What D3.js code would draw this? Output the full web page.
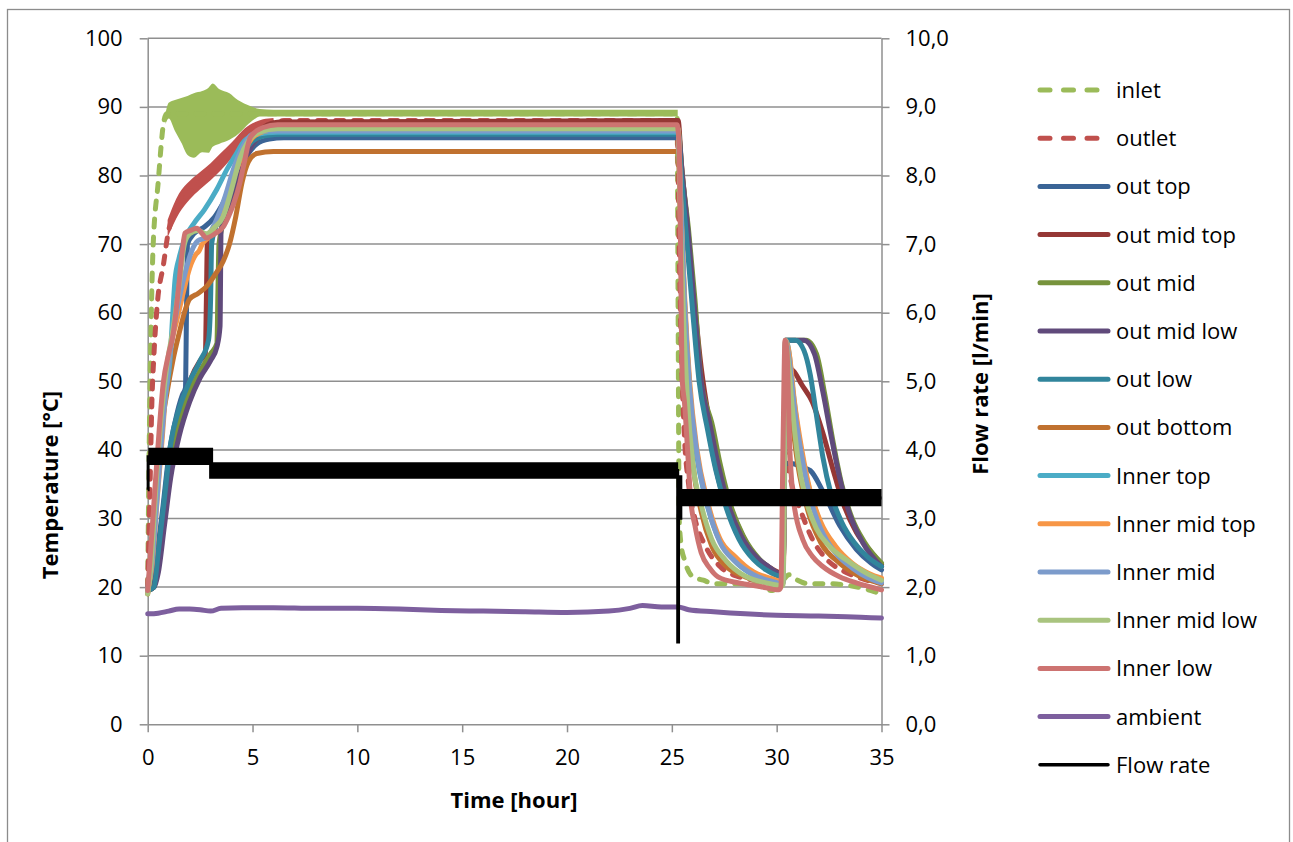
<!DOCTYPE html>
<html><head><meta charset="utf-8">
<script src="https://cdn.jsdelivr.net/npm/d3@7"></script>
<style>
html,body{margin:0;padding:0;background:#fff;}
svg{display:block;font-family:"Open Sans",Lato,sans-serif;}
</style></head>
<body>
<svg id="chart" width="1293" height="842"></svg>
<script>
// ---------------- DATA ----------------
const xTicks = [0,5,10,15,20,25,30,35];
const yTicks = [0,10,20,30,40,50,60,70,80,90,100];
const y2Ticks = [0,1,2,3,4,5,6,7,8,9,10];

const seriesNames = ["inlet","outlet","out top","out mid top","out mid","out mid low","out low","out bottom",
  "Inner top","Inner mid top","Inner mid","Inner mid low","Inner low","ambient","Flow rate"];
const seriesColors = ["#9BBB59","#C0504D","#3A6496","#953735","#77933C","#604A7B","#31859C","#C0712F",
  "#4BACC6","#F79646","#7C9BCB","#A9C47F","#CD7371","#7D5F9E","#000000"];

// inlet (dashed) [hour, °C]
const inlet = [[0,20],[0.05,35],[0.1,47],[0.16,58],[0.25,69],[0.5,79],[0.75,87.5],[0.9,89],[25.25,89],[25.3,60],
  [25.35,30],[25.45,26],[25.6,24],[26,21.5],[26.5,21],[27,20.5],[28,20.5],[29,20.3],[29.8,19.5],[30.3,21],
  [30.6,21.8],[31,21],[31.5,20.5],[32.5,20.5],[33.5,20.2],[34.5,19.5],[35,19]];
// inlet fluctuation envelope
const inletBandT  = [0.85,1.0,1.3,1.6,1.9,2.2,2.6,2.9,3.1,3.4,3.9,4.3,4.6,5.0,5.35,6.0,25.28];
const inletBandLo = [87.5,88.3,86.5,84.8,83.0,82.6,83.4,83.3,84.2,84.6,85.2,86.0,86.9,88.0,88.6,88.6,88.6];
const inletBandHi = [89.0,90.6,91.0,91.3,91.6,92.0,92.3,92.8,93.4,92.6,92.0,91.0,90.5,90.0,89.7,89.6,89.6];

const outlet = [[0,20],[0.1,33],[0.2,47],[0.3,54],[0.45,61],[0.75,67],[1.0,72],[1.5,75.5],[2.0,77.5],[2.5,79],
  [3.0,80.5],[3.5,82],[4.0,83.5],[4.5,85.5],[5.0,86.8],[5.5,87.5],[6.5,88],[25.25,88],[25.35,70],[25.45,55],
  [25.6,42],[25.8,35],[26.1,30],[26.6,26],[27.3,23],[28.2,21.5],[29.5,20.8],[30.25,20.5],[30.35,40],[30.5,38],
  [30.8,34],[31.1,31.5],[31.7,27],[32.4,24],[33.2,22.3],[34,21.3],[35,20.5]];
const outletBandT  = [0.95,1.5,2.0,2.5,3.0,3.5,4.0,4.5,5.0,5.5,6.0];
const outletBandLo = [71.0,74.5,76.5,78.0,79.3,80.8,82.5,84.5,86.0,87.0,87.5];
const outletBandHi = [73.5,77.4,79.2,80.5,81.8,83.3,84.8,86.5,87.6,88.2,88.4];

const outTop = [[0,19.5],[0.2,20],[0.4,24],[0.7,31],[1.0,39],[1.3,44],[1.65,48],[1.8,49],[1.85,60],[1.9,70],
  [2.2,71.5],[2.7,72.5],[3.2,74],[3.6,76],[4.0,78.5],[4.4,81],[4.8,83.2],[5.2,84.6],[5.8,85.3],[6.5,85.5],
  [25.3,85.5],[25.45,80],[25.7,72],[26.0,62],[26.4,50],[26.8,42],[27.2,36],[27.7,31],[28.3,27],[29,24],
  [29.6,22.5],[30.25,21.5],[30.4,38],[30.7,38],[31.2,37.5],[31.6,37],[32.2,34],[33.0,29],[33.8,25.5],
  [34.5,23.5],[35,22.5]];
const outMidTop = [[0,19.5],[0.3,20],[0.5,24],[0.8,32],[1.1,39],[1.5,45],[2.0,50],[2.5,53],[2.75,54],[2.8,62],
  [2.85,71],[3.1,72],[3.5,74.5],[4,78.5],[4.5,82.5],[5,85.5],[5.5,87],[6.3,87.8],[25.3,88],[25.45,82],
  [25.7,74],[26.0,64],[26.4,52],[26.8,44],[27.2,38],[27.7,32.5],[28.3,28],[29,24.5],[29.6,23],[30.3,22],
  [30.45,52],[30.8,51.5],[31.2,49.5],[31.7,47],[32.2,42.5],[32.7,37],[33.2,32],[33.8,28],[34.4,25.5],[35,23.3]];
const outMid = [[0,19.5],[0.3,20],[0.5,23],[0.8,30],[1.1,37],[1.5,44],[2.0,48.5],[2.5,51.5],[3.0,54],[3.3,55.5],
  [3.35,63],[3.4,70],[3.7,74],[4.1,78],[4.5,81.5],[5,84.5],[5.5,86],[6.5,86.5],[25.3,86.5],[25.5,80],
  [25.8,72],[26.1,62],[26.4,50],[26.6,47],[26.9,44],[27.3,38],[27.8,32],[28.4,27.5],[29.2,24],[29.8,22.5],
  [30.3,21.5],[30.45,56],[31.4,56],[31.9,54],[32.3,48],[32.7,41],[33.1,35],[33.6,30],[34.2,26.5],[35,23.5]];
const outMidLow = [[0,19.5],[0.3,20],[0.5,22],[0.8,29],[1.1,36],[1.5,42],[2.0,47],[2.5,50.5],[3.0,53],[3.3,55],
  [3.45,58],[3.5,72],[3.8,75],[4.2,79],[4.6,82],[5,84.5],[5.6,86],[6.5,86.3],[25.3,86.3],[25.5,80],
  [25.8,71],[26.1,60],[26.4,50],[26.8,44],[27.2,38],[27.7,32],[28.3,27.5],[29.0,24.5],[29.6,23],[30.3,21.8],
  [30.45,56],[31.3,56],[31.8,54],[32.2,48.5],[32.6,42],[33.0,36],[33.5,30.5],[34.1,26.5],[35,23]];
const outLow = [[0,19.5],[0.3,20],[0.5,25],[0.8,33],[1.1,41],[1.5,46],[2.0,50],[2.5,53],[2.9,56],[3.0,62],
  [3.05,70],[3.3,73],[3.7,76.5],[4.1,80],[4.5,83],[5,85],[5.6,85.8],[6.5,86],[25.3,86],[25.45,80],
  [25.7,71],[26.0,60],[26.3,50],[26.7,43],[27.1,37],[27.6,31.5],[28.2,27],[28.9,24],[29.5,22.5],[30.3,21.5],
  [30.45,56],[30.9,56],[31.3,54.5],[31.6,51],[31.9,45],[32.2,39],[32.6,33.5],[33.1,29.5],[33.7,26.5],
  [34.3,24.5],[35,23]];
const outBottom = [[0,19],[0.2,25],[0.4,35],[0.6,42],[0.9,48],[1.2,53],[1.5,57],[1.8,60.5],[2.0,62],[2.4,62.8],
  [2.8,63.8],[3.2,65.5],[3.6,67.5],[3.9,70],[4.2,74],[4.5,79],[4.8,82],[5.2,83.2],[6,83.5],[25.3,83.5],
  [25.4,75],[25.55,60],[25.75,47],[26.0,38],[26.4,31],[26.9,26],[27.6,23],[28.5,21.5],[29.5,20.8],[30.3,20.5],
  [30.45,50],[30.7,45],[31.0,38],[31.5,31],[32.1,26.5],[33,23.5],[34,21.5],[35,20.5]];
const innerTop = [[0,19.5],[0.15,24],[0.35,33],[0.6,41.5],[0.85,48],[1.06,53],[1.2,60],[1.3,64.7],[1.5,68],
  [1.8,71],[2.2,73],[2.7,75],[3.3,78],[3.8,81],[4.2,83],[4.6,85],[5.2,86],[6.2,86.3],[25.3,86.3],[25.42,76],
  [25.6,62],[25.85,49],[26.15,40],[26.6,33],[27.1,28],[27.8,24.5],[28.6,22.3],[29.5,21.2],[30.3,20.6],
  [30.42,56],[30.55,55],[30.8,48],[31.1,41],[31.5,35],[32.0,30],[32.7,26],[33.5,23.5],[34.3,22],[35,21]];
const innerMidTop = [[0,19.5],[0.2,23],[0.45,32.7],[0.7,42],[0.9,50],[1.1,55],[1.4,59],[1.7,63],[2.0,66.5],
  [2.3,68.5],[2.45,69],[2.6,70],[2.9,71],[3.3,73],[3.8,77],[4.2,80.5],[4.6,83.5],[5.1,85.8],[5.8,86.6],
  [6.5,86.8],[25.3,86.8],[25.42,77],[25.6,63],[25.85,50],[26.2,40],[26.7,32.5],[27.3,27],[28,24.5],
  [28.9,22.2],[29.7,21.3],[30.3,20.8],[30.42,56],[30.6,54],[30.85,47],[31.2,40],[31.6,34],[32.1,29.5],
  [32.8,26],[33.6,23.5],[34.4,22],[35,21.3]];
const innerMid = [[0,19.5],[0.2,23.5],[0.45,33],[0.7,43],[0.95,51],[1.2,57],[1.5,62],[1.8,66],[2.1,69],
  [2.4,70.5],[2.8,71],[3.2,73],[3.7,77],[4.1,81],[4.5,84],[5,86],[5.7,86.5],[6.5,86.5],[25.3,86.5],
  [25.42,76],[25.6,62],[25.85,49],[26.2,39.5],[26.7,32],[27.3,26.5],[28,23.8],[28.9,21.8],[29.7,20.9],
  [30.3,20.5],[30.42,56],[30.6,53],[30.85,46],[31.2,39],[31.6,33],[32.1,28.5],[32.8,25],[33.6,22.8],
  [34.4,21.3],[35,20.6]];
const innerMidLow = [[0,19],[0.15,23],[0.4,35],[0.65,45],[0.9,52],[1.2,57.5],[1.5,64],[1.75,70],[2.0,71.5],
  [2.4,72],[2.8,71.5],[3.2,72.5],[3.6,74],[4.0,78],[4.4,82.5],[4.8,85],[5.3,86.3],[6.2,86.8],[25.3,86.8],
  [25.4,74],[25.55,60],[25.75,47],[26.0,38],[26.4,32],[26.9,27],[27.6,23.8],[28.5,21.6],[29.5,20.6],
  [30.3,20.2],[30.42,56],[30.55,53],[30.75,46],[31.0,39],[31.4,32.7],[31.9,28.5],[32.5,26],[33.4,23.8],
  [34.3,22],[35,21]];
const innerLow = [[0,19.5],[0.11,24],[0.35,34.6],[0.55,43],[0.74,49.7],[1.0,54],[1.22,57],[1.45,63],[1.65,69],
  [1.78,71.6],[2.05,72],[2.34,72.3],[2.6,71.5],[2.8,70.9],[3.2,71.5],[3.6,72.5],[3.85,74],[4.1,75.9],
  [4.4,79],[4.6,81.8],[4.9,85.6],[5.5,87],[6.2,87.4],[25.25,87.4],[25.35,84],[25.5,50],[25.6,47],[25.75,40],
  [25.9,32.7],[26.1,29],[26.4,25],[26.8,22.8],[27.2,21.5],[28.2,20.6],[29.2,20.1],[30.1,19.6],[30.2,20],
  [30.3,40],[30.4,56],[30.5,54],[30.6,42.4],[30.8,32.7],[31.25,26.9],[31.7,24.5],[32.2,23],[33,21.5],
  [33.8,20.6],[35,19.6]];
const ambient = [[0,16.1],[0.5,16.2],[1,16.5],[1.5,16.8],[2,16.8],[2.5,16.7],[3,16.5],[3.5,16.9],[4.5,17],
  [6,17],[8,16.9],[10,16.9],[12,16.8],[14,16.6],[16,16.5],[18,16.4],[20,16.3],[22,16.5],[23,16.9],
  [23.6,17.3],[24.5,17.1],[25.3,17.1],[25.8,16.7],[27,16.4],[28.5,16.1],[30,15.9],[32,15.8],[34,15.6],[35,15.5]];

// Flow rate [hour, l/min] (secondary axis)
const flowLine = [[0,3.42],[0.02,3.42],[0.02,3.9],[3.0,3.9],[3.1,3.7],[25.28,3.7],[25.28,1.2],[25.32,1.2],
  [25.32,3.3],[35,3.3]];
const flowBandT  = [0.03,2.93,2.93,3.12,3.12,25.3,25.3,25.5,25.5,35];
const flowBandLo = [3.78,3.78,3.58,3.58,3.58,3.58,2.98,2.98,3.18,3.18];
const flowBandHi = [4.03,4.03,4.03,4.03,3.82,3.82,3.63,3.63,3.43,3.43];

// ---------------- CHART ----------------
const svg = d3.select("#chart");
const L = 147.7, R = 881.5, T = 38.3, B = 724.3;
const x = d3.scaleLinear().domain([0,35]).range([L,R]);
const y = d3.scaleLinear().domain([0,100]).range([B,T]);
const y2 = d3.scaleLinear().domain([0,10]).range([B,T]);
const GRID = "#8f8f8f";
const FS = 22;
const FONT = "'Open Sans', Lato, sans-serif";

// outer frame
svg.append("rect").attr("x",7.5).attr("y",9.5).attr("width",1282).attr("height",850)
  .attr("fill","none").attr("stroke","#8c8c8c").attr("stroke-width",1.3);

// gridlines
svg.append("g").selectAll("line").data(yTicks.filter(d=>d>0)).join("line")
  .attr("x1",L).attr("x2",R).attr("y1",d=>y(d)).attr("y2",d=>y(d))
  .attr("stroke",GRID).attr("stroke-width",1.5);

function styleAxis(g){
  g.select(".domain").attr("stroke",GRID).attr("stroke-width",1.5);
  g.selectAll(".tick line").attr("stroke",GRID).attr("stroke-width",1.5);
  g.selectAll(".tick text").attr("font-size",FS).attr("font-family",FONT).attr("fill","#000");
}
const gL = svg.append("g").attr("transform",`translate(${L},0)`)
  .call(d3.axisLeft(y).tickValues(yTicks).tickSize(8).tickSizeOuter(0).tickPadding(17).tickFormat(d3.format("d")));
styleAxis(gL);
const gR = svg.append("g").attr("transform",`translate(${R},0)`)
  .call(d3.axisRight(y2).tickValues(y2Ticks).tickSize(8).tickSizeOuter(0).tickPadding(16)
    .tickFormat(d=>d.toFixed(1).replace(".",",")));
styleAxis(gR);
const gB = svg.append("g").attr("transform",`translate(0,${B})`)
  .call(d3.axisBottom(x).tickValues(xTicks).tickSize(8).tickSizeOuter(0).tickPadding(17).tickFormat(d3.format("d")));
styleAxis(gB);

// axis titles
svg.append("text").attr("x",514).attr("y",808).attr("text-anchor","middle").attr("font-family",FONT)
  .attr("font-size",FS).attr("font-weight","bold").text("Time [hour]");
svg.append("text").attr("transform","translate(58,485) rotate(-90)").attr("text-anchor","middle").attr("font-family",FONT)
  .attr("font-size",FS).attr("font-weight","bold").text("Temperature [°C]");
svg.append("text").attr("transform","translate(988,384) rotate(-90)").attr("text-anchor","middle").attr("font-family",FONT)
  .attr("font-size",FS).attr("font-weight","bold").text("Flow rate [l/min]");

// marks
const plot = svg.append("g");
const line = d3.line().x(d=>x(d[0])).y(d=>y(d[1])).curve(d3.curveMonotoneX);
const band = (T_,Lo,Hi) => d3.area().x((d,i)=>x(T_[i])).y0((d,i)=>y(Lo[i])).y1((d,i)=>y(Hi[i]))
  .curve(d3.curveMonotoneX)(T_);

const DASH = "8,10";
// inlet
plot.append("path").attr("d",band(inletBandT,inletBandLo,inletBandHi)).attr("fill",seriesColors[0]);
plot.append("path").attr("d",line(inlet)).attr("fill","none").attr("stroke",seriesColors[0])
  .attr("stroke-width",5).attr("stroke-dasharray",DASH).attr("stroke-linecap","round");
// outlet
plot.append("path").attr("d",band(outletBandT,outletBandLo,outletBandHi)).attr("fill",seriesColors[1]);
plot.append("path").attr("d",line(outlet)).attr("fill","none").attr("stroke",seriesColors[1])
  .attr("stroke-width",5).attr("stroke-dasharray",DASH).attr("stroke-linecap","round");

const solid = [outTop,outMidTop,outMid,outMidLow,outLow,outBottom,innerTop,innerMidTop,innerMid,innerMidLow,innerLow,ambient];
solid.forEach((s,i)=>{
  plot.append("path").attr("d",line(s)).attr("fill","none").attr("stroke",seriesColors[i+2])
    .attr("stroke-width",5).attr("stroke-linejoin","round").attr("stroke-linecap","round");
});

// flow rate
plot.append("path").attr("d",d3.area().x((d,i)=>x(flowBandT[i])).y0((d,i)=>y2(flowBandLo[i])).y1((d,i)=>y2(flowBandHi[i]))(flowBandT))
  .attr("fill","#000");
plot.append("path").attr("d",d3.line().x(d=>x(d[0])).y(d=>y2(d[1]))(flowLine))
  .attr("fill","none").attr("stroke","#000").attr("stroke-width",3);

// legend
const lg = svg.append("g");
const rowY = i => 90 + i*48.2;
seriesNames.forEach((n,i)=>{
  const g = lg.append("g").attr("transform",`translate(0,${rowY(i)})`);
  const ln = g.append("line").attr("y1",0).attr("y2",0).attr("stroke",seriesColors[i])
    .attr("stroke-linecap","round");
  if(i<2){ ln.attr("x1",1040).attr("x2",1100).attr("stroke-width",5).attr("stroke-dasharray","10,13.5"); }
  else if(i===14){ ln.attr("x1",1040).attr("x2",1108).attr("stroke-width",3.5); }
  else { ln.attr("x1",1040).attr("x2",1108).attr("stroke-width",5); }
  g.append("text").attr("x",1116).attr("y",8).attr("font-family",FONT).attr("font-size",FS).text(n);
});
</script>
</body></html>
